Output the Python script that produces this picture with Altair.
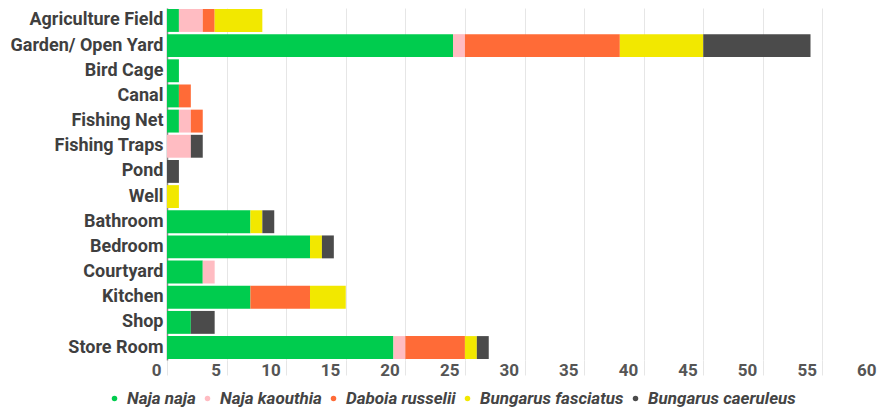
import altair as alt
import pandas as pd

categories = ["Agriculture Field", "Garden/ Open Yard", "Bird Cage", "Canal", "Fishing Net",
              "Fishing Traps", "Pond", "Well", "Bathroom", "Bedroom", "Courtyard", "Kitchen",
              "Shop", "Store Room"]
species = ["Naja naja", "Naja kaouthia", "Daboia russelii", "Bungarus fasciatus", "Bungarus caeruleus"]
colors = ["#00CC4E", "#FFBCC2", "#FF6B37", "#F2E800", "#4B4B4B"]

naja_naja = [1, 24, 1, 1, 1, 0, 0, 0, 7, 12, 3, 7, 2, 19]
naja_kaouthia = [2, 1, 0, 0, 1, 2, 0, 0, 0, 0, 1, 0, 0, 1]
daboia_russelii = [1, 13, 0, 1, 1, 0, 0, 0, 0, 0, 0, 5, 0, 5]
bungarus_fasciatus = [4, 7, 0, 0, 0, 0, 0, 1, 1, 1, 0, 3, 0, 1]
bungarus_caeruleus = [0, 9, 0, 0, 0, 1, 1, 0, 1, 1, 0, 0, 2, 1]

series = [naja_naja, naja_kaouthia, daboia_russelii, bungarus_fasciatus, bungarus_caeruleus]
rows = []
for si, (sp, vals) in enumerate(zip(species, series)):
    for cat, v in zip(categories, vals):
        if v > 0:
            rows.append({"Location": cat, "Species": sp, "Count": v, "order": si})
df = pd.DataFrame(rows)

chart = alt.Chart(df).mark_bar().encode(
    y=alt.Y("Location:N", sort=categories, title=None,
            scale=alt.Scale(paddingInner=0.09, paddingOuter=0.04),
            axis=alt.Axis(labelFont="Roboto", labelFontSize=18, labelFontWeight="bold",
                          labelColor="#3f3f3f", ticks=False, labelPadding=4,
                          domainColor="#888888", domainWidth=1.5, grid=False)),
    x=alt.X("Count:Q", title=None, stack="zero",
            scale=alt.Scale(domain=[0, 60], nice=False),
            axis=alt.Axis(values=list(range(0, 61, 5)), labelFont="Roboto", labelFontSize=17,
                          labelFontWeight="bold", labelColor="#555555", labelAlign="right",
                          labelBaseline="top", labelPadding=-13, labelOffset=-6,
                          tickSize=15, tickColor="#e6e6e6", gridColor="#e6e6e6",
                          domain=False, labelFlush=False)),
    color=alt.Color("Species:N", sort=species,
                    scale=alt.Scale(domain=species, range=colors),
                    legend=alt.Legend(orient="none", legendX=-61, legendY=382, direction="horizontal",
                                      title=None, symbolType="circle", symbolSize=30,
                                      labelFont="Roboto", labelFontSize=17, labelFontStyle="italic",
                                      labelFontWeight="bold", labelColor="#444444",
                                      gridAlign="none", columnPadding=3, symbolOffset=0,
                                      labelOffset=4, symbolStrokeWidth=0, labelLimit=300)),
    order=alt.Order("order:Q"),
).properties(
    width=715, height=352,
    autosize=alt.AutoSizeParams(type="none"),
    padding={"left": 159, "top": 0, "right": -5, "bottom": 50},
).configure_view(stroke=None)

chart.save("out.html", embed_options={"renderer": "svg", "actions": False})
